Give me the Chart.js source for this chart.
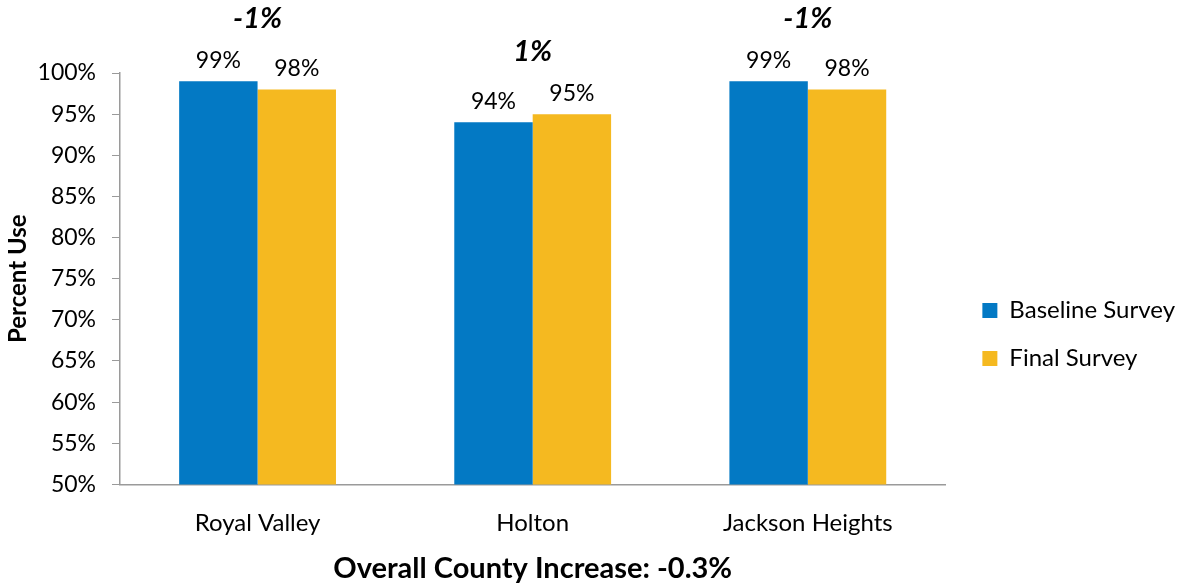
<!DOCTYPE html>
<html>
<head>
<meta charset="utf-8">
<script src="https://cdn.jsdelivr.net/npm/chart.js@4.4.1/dist/chart.umd.min.js"></script>
<style>
  html, body { margin: 0; padding: 0; background: #fff; }
  #wrap { width: 1187px; height: 588px; position: relative; }
</style>
</head>
<body>
<div id="wrap"><canvas id="survey-chart"></canvas></div>
<script>
const categories = ['Royal Valley', 'Holton', 'Jackson Heights'];
const baseline = [99, 94, 99];
const finalSurvey = [98, 95, 98];
const changeLabels = ['-1%', '1%', '-1%'];
const yTicks = [50, 55, 60, 65, 70, 75, 80, 85, 90, 95, 100];

const FONT = 'Lato, "Open Sans", sans-serif';
const AXIS_GREY = '#9a9a9a';

// value labels above each bar plus the bold change label above each group
const barLabels = {
    id: 'barLabels',
    afterDatasetsDraw(chart) {
        const ctx = chart.ctx;
        ctx.save();
        ctx.fillStyle = '#000';
        ctx.textAlign = 'center';
        ctx.textBaseline = 'bottom';
        ctx.font = '23px ' + FONT;
        chart.data.datasets.forEach((ds, di) => {
            const meta = chart.getDatasetMeta(di);
            meta.data.forEach((bar, i) => {
                ctx.fillText(ds.data[i] + '%', bar.x, bar.y - 9);
            });
        });

        ctx.font = 'italic bold 29px ' + FONT;
        const xScale = chart.scales.x;
        categories.forEach((c, i) => {
            const topY = Math.min(
                chart.getDatasetMeta(0).data[i].y,
                chart.getDatasetMeta(1).data[i].y
            );
            ctx.fillText(changeLabels[i], xScale.getPixelForValue(i), topY - 48);
        });
        ctx.restore();
    }
};

const ctx = document.getElementById('survey-chart').getContext('2d');
new Chart(ctx, {
    type: 'bar',
    data: {
        labels: categories,
        datasets: [{
            label: 'Baseline Survey',
            data: baseline,
            backgroundColor: '#0379C4',
            borderWidth: 0
        }, {
            label: 'Final Survey',
            data: finalSurvey,
            backgroundColor: '#F5B920',
            borderWidth: 0
        }]
    },
    options: {
        responsive: true,
        maintainAspectRatio: false,
        animation: false,
        layout: {
            padding: { top: 73, right: 2, left: 0, bottom: -8 }
        },
        datasets: {
            bar: { categoryPercentage: 0.57, barPercentage: 1.0 }
        },
        scales: {
            y: {
                min: 50,
                max: 100,
                afterBuildTicks: axis => {
                    axis.ticks = yTicks.map(v => ({ value: v }));
                },
                afterFit: s => { s.width = 120; },
                grid: {
                    drawOnChartArea: false,
                    drawTicks: true,
                    tickLength: 8,
                    color: AXIS_GREY
                },
                border: { display: true, color: AXIS_GREY, width: 1.5 },
                ticks: {
                    color: '#000',
                    padding: 16,
                    font: { family: FONT, size: 23 },
                    callback: v => v + '%'
                },
                title: {
                    display: true,
                    text: 'Percent Use',
                    color: '#000',
                    font: { family: FONT, size: 24, weight: 'bold' },
                    padding: { top: 4, bottom: 0 }
                }
            },
            // empty spacer so the plot stops short of the legend
            spacer: {
                type: 'linear',
                position: 'right',
                grid: { display: false },
                border: { display: false },
                ticks: { display: false },
                afterFit: s => { s.width = 13; }
            },
            x: {
                grid: { display: false },
                border: { display: true, color: AXIS_GREY, width: 1.5 },
                ticks: {
                    color: '#000',
                    padding: 16,
                    font: { family: FONT, size: 24 }
                },
                title: {
                    display: true,
                    text: 'Overall County Increase: -0.3%',
                    color: '#000',
                    font: { family: FONT, size: 29, weight: 'bold' },
                    padding: { top: -2, bottom: 10 }
                }
            }
        },
        plugins: {
            legend: {
                position: 'right',
                maxWidth: 300,
                labels: {
                    color: '#000',
                    boxWidth: 15,
                    boxHeight: 15,
                    padding: 24,
                    font: { family: FONT, size: 24 }
                }
            },
            tooltip: { enabled: false }
        }
    },
    plugins: [barLabels]
});
</script>
</body>
</html>
